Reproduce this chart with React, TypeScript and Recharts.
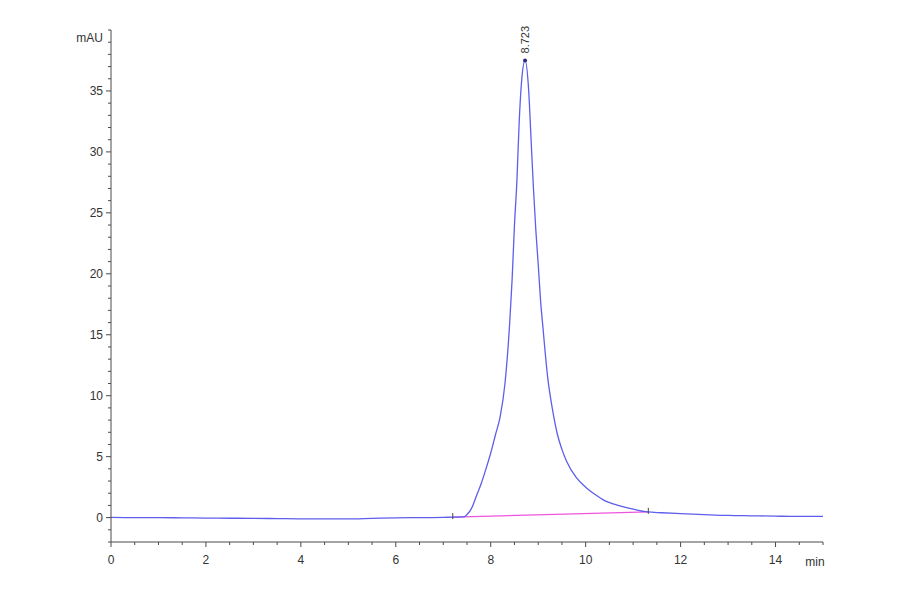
import React from "react";
import { LineChart, Line, XAxis, YAxis, ReferenceDot, Label } from "recharts";

// retention time (min) and detector signal (mAU)
const retentionTime = [
  0, 0.5, 1, 1.5, 2, 2.5, 3, 3.5, 4, 4.5, 5, 5.5, 6, 6.5, 7, 7.2, 7.44, 7.5,
  7.6, 7.7, 7.8, 7.9, 8.0, 8.1, 8.2, 8.3, 8.4, 8.45, 8.5, 8.55, 8.6, 8.65,
  8.723, 8.8, 8.85, 8.9, 8.95, 9.0, 9.05, 9.1, 9.2, 9.3, 9.4, 9.5, 9.6, 9.8,
  10.0, 10.2, 10.4, 10.6, 10.8, 11.0, 11.3, 11.6, 12.0, 12.5, 13.0, 13.5,
  14.0, 14.5, 15.0,
];
const absorbance = [
  0.02, 0.0, 0.0, -0.02, -0.04, -0.05, -0.06, -0.08, -0.1, -0.1, -0.1, -0.06,
  -0.02, 0.0, 0.02, 0.04, 0.06, 0.25, 0.8, 1.8, 2.8, 4.0, 5.3, 6.8, 8.3, 11.0,
  16.0, 19.5, 24.0, 27.5, 32.5, 35.8, 37.5, 35.0, 31.0, 27.0, 23.6, 20.8,
  17.8, 15.6, 11.5, 8.9, 6.9, 5.6, 4.6, 3.3, 2.5, 1.9, 1.4, 1.1, 0.88, 0.7,
  0.47, 0.4, 0.33, 0.25, 0.18, 0.15, 0.12, 0.1, 0.1,
];

// integration baseline
const baselineTime = [7.2, 11.32];
const baselineValue = [0.04, 0.47];

const peakTime = 8.723;
const peakHeight = 37.5;
const peakLabel = "8.723";

const xMajor = [0, 2, 4, 6, 8, 10, 12, 14];
const yMajor = [0, 5, 10, 15, 20, 25, 30, 35];

const xTicks: number[] = [];
for (let i = 0; i <= 30; i++) xTicks.push(i / 2);
const yTicks: number[] = [];
for (let i = -2; i <= 40; i++) yTicks.push(i);

const signal = retentionTime.map((t, i) => ({ t, v: absorbance[i] }));
const baseline = baselineTime.map((t, i) => ({ t, b: baselineValue[i] }));

const FONT = "'Liberation Sans', Arial, sans-serif";
const AXIS = "#4a4a4a";

const XTick = (props: any) => {
  const { x, y, payload } = props;
  const major = xMajor.includes(payload.value);
  return (
    <g>
      <line x1={x} y1={y} x2={x} y2={y + (major ? 5 : 3)} stroke={AXIS} />
      {major && (
        <text x={x} y={y + 22} textAnchor="middle" fontSize={12} fill="#333" fontFamily={FONT}>
          {payload.value}
        </text>
      )}
    </g>
  );
};

const YTick = (props: any) => {
  const { x, y, payload } = props;
  const major = yMajor.includes(payload.value);
  return (
    <g>
      <line x1={x} y1={y} x2={x - (major ? 5 : 3)} y2={y} stroke={AXIS} />
      {major && (
        <text x={x - 8} y={y + 4} textAnchor="end" fontSize={12} fill="#333" fontFamily={FONT}>
          {payload.value}
        </text>
      )}
    </g>
  );
};

const PeakLabel = (props: any) => {
  const { viewBox } = props;
  const cx = viewBox.x + viewBox.width / 2;
  const cy = viewBox.y;
  return (
    <text
      transform={`translate(${cx + 4},${cy - 5}) rotate(-90)`}
      fontSize={11}
      fill="#333"
      fontFamily={FONT}
    >
      {peakLabel}
    </text>
  );
};

const BaseMark = (props: any) => (
  <line x1={props.cx} y1={props.cy - 4} x2={props.cx} y2={props.cy + 2} stroke="#444" />
);

export default function App() {
  return (
    <div style={{ position: "absolute", left: 0, top: 0, background: "#fff" }}>
      <LineChart
        width={900}
        height={594}
        data={signal}
        margin={{ top: 30, right: 77, bottom: 22, left: 71 }}
      >
        <XAxis
          dataKey="t"
          type="number"
          domain={[0, 15]}
          ticks={xTicks}
          interval={0}
          tick={<XTick />}
          tickLine={false}
          tickSize={0}
          tickMargin={0}
          height={30}
          axisLine={{ stroke: AXIS }}
        >
          <Label
            content={(p: any) => (
              <text
                x={p.viewBox.x + p.viewBox.width - 8}
                y={p.viewBox.y + 24}
                textAnchor="middle"
                fontSize={12}
                fill="#333"
                fontFamily={FONT}
              >
                min
              </text>
            )}
          />
        </XAxis>
        <YAxis
          type="number"
          domain={[-2, 40]}
          ticks={yTicks}
          interval={0}
          tick={<YTick />}
          tickLine={false}
          tickSize={0}
          tickMargin={0}
          width={40}
          axisLine={{ stroke: AXIS }}
        >
          <Label
            content={(p: any) => (
              <text
                x={p.viewBox.x + p.viewBox.width - 8}
                y={p.viewBox.y + 12}
                textAnchor="end"
                fontSize={12}
                fill="#333"
                fontFamily={FONT}
              >
                mAU
              </text>
            )}
          />
        </YAxis>
        <Line
          data={baseline}
          dataKey="b"
          type="linear"
          stroke="#ee55dd"
          strokeWidth={1.3}
          dot={false}
          isAnimationActive={false}
        />
        <Line
          dataKey="v"
          type="monotone"
          stroke="#5e5eec"
          strokeWidth={1.3}
          dot={false}
          isAnimationActive={false}
        />
        <ReferenceDot x={baselineTime[0]} y={baselineValue[0]} shape={<BaseMark />} />
        <ReferenceDot x={baselineTime[1]} y={baselineValue[1]} shape={<BaseMark />} />
        <ReferenceDot
          x={peakTime}
          y={peakHeight}
          r={2}
          fill="#2a2a80"
          stroke="none"
          label={<PeakLabel />}
        />
      </LineChart>
    </div>
  );
}
